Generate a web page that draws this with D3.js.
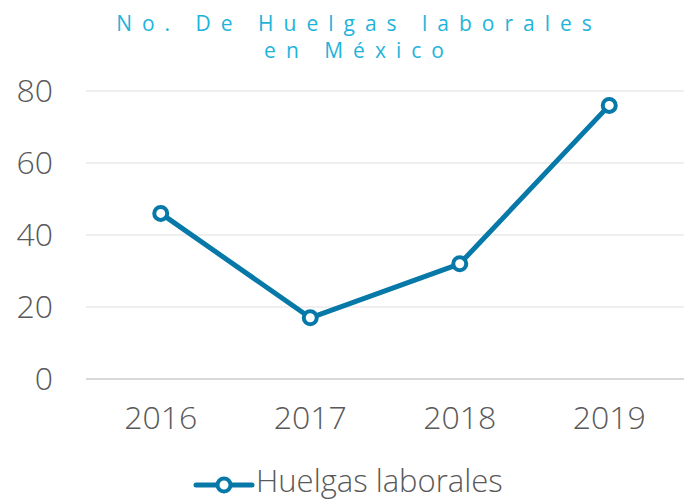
<!DOCTYPE html>
<html>
<head>
<meta charset="utf-8">
<script src="https://cdn.jsdelivr.net/npm/d3@7"></script>
<style>
  body { margin: 0; background: #fff; }
  text { font-family: "Open Sans", sans-serif; font-weight: 300; }
</style>
</head>
<body>
<script>
var years = ["2016", "2017", "2018", "2019"];
var huelgas = [46, 17, 32, 76];
var yTicks = [0, 20, 40, 60, 80];
var titleLines = ["No. De Huelgas laborales", "en México"];
var seriesName = "Huelgas laborales";

var w = 687, h = 500;
var plotLeft = 86, plotRight = 684, plotTop = 91, plotBottom = 379;
var lineColor = "#0779a8";

var svg = d3.select("body").append("svg")
    .attr("width", w)
    .attr("height", h);

var xScale = d3.scaleBand()
    .domain(years)
    .range([plotLeft, plotRight]);

var yScale = d3.scaleLinear()
    .domain([0, 80])
    .range([plotBottom, plotTop]);

// gridlines
svg.append("g")
    .selectAll("line")
    .data(yTicks)
    .enter()
    .append("line")
    .attr("x1", plotLeft)
    .attr("x2", plotRight)
    .attr("y1", function(d) { return yScale(d); })
    .attr("y2", function(d) { return yScale(d); })
    .attr("stroke", function(d) { return d == 0 ? "#d9d9d9" : "#efefef"; })
    .attr("stroke-width", 2);

var yAxis = d3.axisLeft(yScale).tickValues(yTicks).tickSize(0).tickPadding(0);
var gy = svg.append("g")
    .attr("transform", "translate(53,0)")
    .call(yAxis);
gy.select(".domain").remove();
gy.selectAll("text")
    .attr("fill", "#595959")
    .style("font-size", "32px")
    .style("font-family", "Open Sans, sans-serif")
    .style("font-weight", 350);

var xAxis = d3.axisBottom(xScale).tickSize(0).tickPadding(0);
var gx = svg.append("g")
    .attr("transform", "translate(0,406)")
    .call(xAxis);
gx.select(".domain").remove();
gx.selectAll("text")
    .attr("fill", "#595959")
    .style("font-size", "32px")
    .style("font-family", "Open Sans, sans-serif")
    .style("font-weight", 300);

// title
svg.append("g")
    .selectAll("text")
    .data(titleLines)
    .enter()
    .append("text")
    .attr("x", 359)
    .attr("y", function(d, i) { return 31 + i * 27; })
    .attr("text-anchor", "middle")
    .attr("fill", "#1eb4da")
    .style("font-size", "21px")
    .style("font-weight", 400)
    .style("letter-spacing", "10px")
    .text(function(d) { return d; });

var line = d3.line()
    .x(function(d, i) { return xScale(years[i]) + xScale.bandwidth() / 2; })
    .y(function(d) { return yScale(d); });

svg.append("path")
    .datum(huelgas)
    .attr("d", line)
    .attr("fill", "none")
    .attr("stroke", lineColor)
    .attr("stroke-width", 5)
    .attr("stroke-linejoin", "round");

svg.append("g")
    .selectAll("circle")
    .data(huelgas)
    .enter()
    .append("circle")
    .attr("cx", function(d, i) { return xScale(years[i]) + xScale.bandwidth() / 2; })
    .attr("cy", function(d) { return yScale(d); })
    .attr("r", 6.5)
    .attr("fill", "#fff")
    .attr("stroke", lineColor)
    .attr("stroke-width", 4);

// legend
var lg = svg.append("g");
lg.append("line")
    .attr("x1", 196).attr("x2", 252)
    .attr("y1", 485).attr("y2", 485)
    .attr("stroke", lineColor)
    .attr("stroke-width", 5)
    .attr("stroke-linecap", "round");
lg.append("circle")
    .attr("cx", 224).attr("cy", 485).attr("r", 6.5)
    .attr("fill", "#fff")
    .attr("stroke", lineColor)
    .attr("stroke-width", 4);
lg.append("text")
    .attr("x", 256).attr("y", 492)
    .attr("fill", "#595959")
    .style("font-size", "31px")
    .text(seriesName);
</script>
</body>
</html>
